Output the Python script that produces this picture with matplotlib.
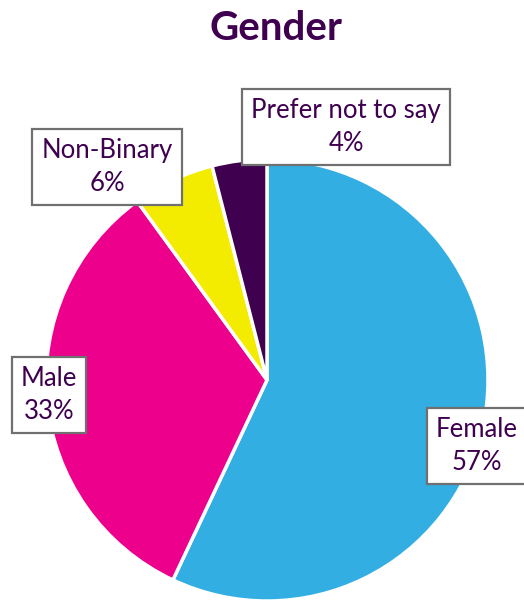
import matplotlib.pyplot as plt

plt.rcParams['font.family'] = ['Lato', 'DejaVu Sans']

labels = ['Female', 'Male', 'Non-Binary', 'Prefer not to say']
shares = [57, 33, 6, 4]
colours = ['#33AEE3', '#EC008C', '#F3EC00', '#3F0050']
TEXT = '#3F0050'

# where each label box sits (pixels from top-left)
labelPos = {
    'Female': (477, 446),
    'Male': (49, 395),
    'Non-Binary': (107, 167),
    'Prefer not to say': (346, 127),
}

W, H = 524, 601


def main():
    fig = plt.figure(figsize=(W / 100, H / 100), dpi=100)
    ax = fig.add_axes([0, 0, 1, 1])

    ax.pie(shares, colors=colours, startangle=90, counterclock=False,
           center=(267, H - 380), radius=221,
           wedgeprops={'edgecolor': 'white', 'linewidth': 2.5})

    # pie() resets the limits, so set them afterwards
    ax.set_xlim(0, W)
    ax.set_ylim(0, H)
    ax.set_aspect('equal')
    ax.axis('off')

    for name, value in zip(labels, shares):
        x, y = labelPos[name]
        ax.text(x, H - y, f"{name}\n{value}%", ha='center', va='center',
                fontsize=18.5, color=TEXT, linespacing=1.38,
                bbox={'boxstyle': 'square,pad=0.35', 'facecolor': 'white',
                      'edgecolor': '#707070', 'linewidth': 1.6})

    ax.text(276, H - 29, "Gender", ha='center', va='center',
            fontsize=29, fontweight='bold', color=TEXT)

    fig.savefig('out.png', dpi=100)


if __name__ == '__main__':
    main()
